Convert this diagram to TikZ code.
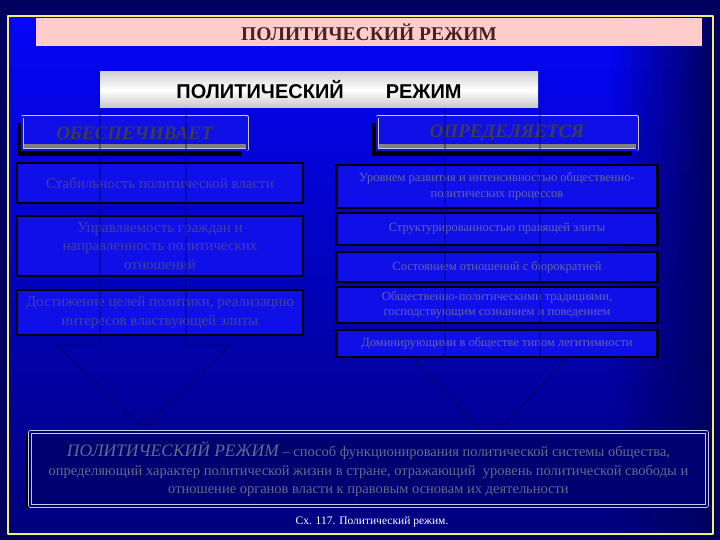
\documentclass[tikz,border=0pt]{standalone}
\usepackage{fontspec}
\setmainfont{Liberation Serif}
\newfontfamily\hdsans{Liberation Sans}
\usetikzlibrary{fadings,shadows}
\definecolor{outnavy}{RGB}{0,0,95}
\definecolor{bgtop}{RGB}{5,5,250}
\definecolor{bgbot}{RGB}{0,0,125}
\definecolor{boxblue}{RGB}{15,15,232}
\definecolor{boxtxt}{RGB}{65,65,160}
\definecolor{rtxt}{RGB}{100,100,172}
\definecolor{deftxt}{RGB}{105,105,140}
\definecolor{defnavy}{RGB}{0,0,112}
\definecolor{framegray}{RGB}{200,200,225}
\definecolor{pinkbar}{RGB}{255,204,204}
\definecolor{titlebrown}{RGB}{70,35,35}
\definecolor{bordyel}{RGB}{240,240,110}
\definecolor{hdtxt}{RGB}{60,60,75}
\tikzfading[name=fadeR, left color=transparent!100, right color=transparent!0]
\begin{document}
\begin{tikzpicture}[x=1pt,y=-1pt,line join=round,
		lbox/.style={draw=black,line width=2.5pt,fill=boxblue,text=boxtxt,align=center,font=\fontsize{15}{18.5}\selectfont,minimum width=286,inner sep=1pt},
		rbox/.style={draw=black,line width=2.5pt,fill=boxblue,text=rtxt,align=center,font=\fontsize{12.5}{15.5}\selectfont,minimum width=321,inner sep=1pt},
		hbox/.style={draw=framegray,double=boxblue,double distance=1.4pt,line width=0.8pt,fill=boxblue,text=hdtxt,
			font=\fontsize{19}{21}\selectfont\bfseries\itshape,general shadow={fill=black,shadow xshift=-5pt,shadow yshift=-6pt},
			path picture={\fill[gray] ([yshift=6pt]path picture bounding box.south west) rectangle (path picture bounding box.south east);}},
		blockarrow/.style={draw=outnavy,line width=0.8pt}]
	\fill[outnavy] (0,0) rectangle (720,540);
	\shade[top color=bgtop,bottom color=bgbot] (8,16) rectangle (713,534);
	\fill[outnavy,path fading=fadeR] (610,16) rectangle (713,534);
	\node[fill=pinkbar,minimum width=666,minimum height=28,text=titlebrown,font=\fontsize{19.5}{21}\selectfont\bfseries] (ttl) at (369,32) {ПОЛИТИЧЕСКИЙ РЕЖИМ};
	\node[top color=gray!35,bottom color=gray!45,middle color=white,minimum width=438,minimum height=36,font=\hdsans\bfseries\fontsize{20}{22}\selectfont] (pr) at (319,90) {ПОЛИТИЧЕСКИЙ\hspace{42pt}РЕЖИМ};
	\node[hbox,minimum width=225,minimum height=33] (obes) at (134.5,133.5) {ОБЕСПЕЧИВАЕТ};
	\node[hbox,minimum width=260,minimum height=33] (opr) at (507,133.5) {ОПРЕДЕЛЯЕТСЯ};
	\node[lbox,minimum height=40] (lb1) at (160,183) {Стабильность политической власти};
	\node[lbox,minimum height=60] (lb2) at (160,246) {Управляемость граждан и\\направленность политических\\отношений};
	\node[lbox,minimum height=45] (lb3) at (160,312.5) {Достижение целей политики, реализацию\\интересов властвующей элиты};
	\node[rbox,minimum height=43] (rb1) at (497,186.5) {Уровнем развития и интенсивностью общественно-\\политических процессов};
	\node[rbox,minimum height=32] (rb2) at (497,229) {Структурированностью правящей элиты};
	\node[rbox,minimum height=30] (rb3) at (497,267) {Состоянием отношений с бюрократией};
	\node[rbox,minimum height=36] (rb4) at (497,305) {Общественно-политическими традициями,\\господствующим сознанием и поведением};
	\node[rbox,minimum height=27] (rb5) at (497,343.5) {Доминирующими в обществе типом легитимности};
	\draw[blockarrow] (100,108)--(100,345)--(57,345)--(143,428)--(230,345)--(186,345)--(186,108);
	\draw[blockarrow] (445,108)--(445,358)--(413,358)--(490,440)--(567,358)--(540,358)--(540,108);
	\node[draw=framegray,double=defnavy,double distance=1.6pt,line width=1pt,fill=defnavy,minimum width=677,minimum height=74,
		text=deftxt,align=center,font=\fontsize{14.5}{18.5}\selectfont,inner sep=0pt,
		general shadow={fill=black,shadow xshift=-4pt,shadow yshift=-2pt}] (def) at (368.5,469)
		{{\fontsize{17.5}{18}\selectfont\itshape ПОЛИТИЧЕСКИЙ РЕЖИМ} – способ функционирования политической системы общества,\\
		определяющий характер политической жизни в стране, отражающий\ \ уровень политической свободы и\\
		отношение органов власти к правовым основам их деятельности};
	\node[text=white,font=\fontsize{11.5}{13}\selectfont] (cap) at (372,522) {Сх. 117. Политический режим.};
	\draw[bordyel,line width=1.5pt] (8,16) rectangle (713,534);
\end{tikzpicture}
\end{document}
